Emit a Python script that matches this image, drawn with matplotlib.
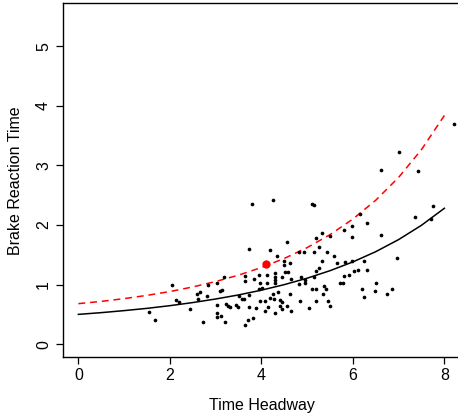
import numpy as np
import matplotlib
matplotlib.use("Agg")
import matplotlib.pyplot as plt

# observed points (time headway, brake reaction time)
headway = [
    1.55, 1.68, 2.04, 2.14, 2.21, 2.43, 2.60, 2.66, 2.62, 2.73,
    2.81, 2.84, 3.03, 3.03, 3.03, 3.03, 3.10, 3.13, 3.12, 3.19,
    3.21, 3.22, 3.26, 3.32, 3.45, 3.48, 3.52, 3.58, 3.63, 3.64,
    3.64, 3.64, 3.70, 3.72, 3.73, 3.73, 3.79, 3.83, 3.82, 3.89,
    3.94, 3.94, 4.02, 3.97, 3.97, 4.08, 4.07, 4.13, 4.13, 4.14,
    4.18, 4.19, 4.25, 4.28, 4.26, 4.30, 4.30, 4.30, 4.30, 4.30,
    4.34, 4.37, 4.41, 4.45, 4.41, 4.45, 4.45, 4.49, 4.50, 4.52,
    4.59, 4.56, 4.57, 4.63, 4.64, 4.63, 4.64, 4.83, 4.93, 4.86,
    4.96, 4.83, 4.96, 4.85, 5.05, 5.10, 5.19, 5.11, 5.14, 5.14,
    5.16, 5.19, 5.19, 5.20, 5.26, 5.27, 5.32, 5.33, 5.34, 5.36,
    5.41, 5.44, 5.46, 5.50, 5.50, 5.59, 5.66, 5.71, 5.78, 5.81,
    5.81, 5.83, 5.91, 5.98, 5.98, 5.99, 6.02, 6.12, 6.15, 6.20,
    6.25, 6.25, 6.30, 6.30, 6.49, 6.50, 6.61, 6.62, 6.74, 6.85,
    6.97, 7.01, 7.35, 7.42, 7.70, 7.75, 8.21,
]
reaction = [
    0.54, 0.40, 0.99, 0.74, 0.70, 0.59, 0.84, 0.87, 0.75, 0.37,
    0.80, 0.99, 1.02, 0.65, 0.52, 0.45, 0.89, 0.91, 0.47, 1.12,
    0.38, 0.68, 0.64, 0.63, 0.65, 0.63, 0.81, 0.76, 0.75, 1.15,
    1.06, 0.33, 0.40, 0.83, 0.63, 1.59, 2.35, 1.09, 0.44, 0.60,
    1.16, 0.92, 0.95, 1.03, 0.73, 0.73, 0.56, 1.16, 1.02, 0.62,
    0.77, 1.58, 2.42, 0.75, 0.85, 1.20, 1.12, 1.08, 1.03, 0.53,
    1.48, 0.88, 0.74, 0.70, 0.64, 1.12, 0.59, 1.39, 1.33, 1.21,
    1.21, 0.64, 1.71, 1.36, 1.09, 0.85, 0.55, 1.54, 1.54, 1.12,
    1.08, 1.01, 1.02, 0.73, 0.60, 0.92, 0.92, 2.36, 2.33, 1.12,
    1.55, 1.78, 0.73, 1.22, 1.27, 1.63, 1.40, 1.87, 0.84, 0.98,
    0.93, 1.55, 0.73, 1.81, 0.64, 1.48, 1.36, 1.02, 1.02, 1.91,
    1.14, 1.38, 1.16, 1.99, 1.40, 1.79, 1.22, 1.25, 2.18, 0.92,
    1.39, 0.79, 2.03, 1.24, 0.90, 1.02, 1.83, 2.92, 0.85, 0.92,
    1.44, 3.22, 2.14, 2.90, 2.10, 2.31, 3.70,
]

# highlighted observation
red_point = (4.10, 1.345)

# fitted curves
curve_x = [0.0, 0.5, 1.0, 1.5, 2.0, 2.5, 3.0, 3.5, 4.0,
           4.5, 5.0, 5.5, 6.0, 6.5, 7.0, 7.5, 8.0]
mean_curve = [0.500, 0.529, 0.563, 0.601, 0.646, 0.698, 0.758, 0.826, 0.906,
              0.999, 1.107, 1.233, 1.380, 1.552, 1.755, 1.995, 2.280]
upper_curve = [0.680, 0.718, 0.764, 0.819, 0.883, 0.960, 1.051, 1.158, 1.286,
               1.438, 1.620, 1.837, 2.099, 2.415, 2.798, 3.265, 3.837]

plt.rcParams["font.family"] = ["Liberation Sans", "DejaVu Sans"]

fig = plt.figure(figsize=(4.58, 4.17), dpi=100)
ax = fig.add_axes([0.1382, 0.1432, 0.864, 0.849])

ax.plot(curve_x, mean_curve, color="black", lw=1.1)
ax.plot(curve_x, upper_curve, color="red", lw=1.1, linestyle=(0, (4.5, 3.2)))
ax.scatter(headway, reaction, s=7, color="black", linewidths=0, zorder=3)
ax.plot(*red_point, "o", color="red", markersize=6, markeredgewidth=0, zorder=4)

ax.set_xlim(-0.33, 8.32)
ax.set_ylim(-0.22, 5.72)
ax.set_xticks([0, 2, 4, 6, 8])
ax.set_yticks([0, 1, 2, 3, 4, 5])
ax.tick_params(direction="out", length=4.8, width=0.9, labelsize=11.5, color="black")
ax.tick_params(axis="x", pad=3.2)
ax.tick_params(axis="y", pad=4.0)
for lbl in ax.get_yticklabels():
    lbl.set_rotation(90)
    lbl.set_va("center")
for sp in ax.spines.values():
    sp.set_linewidth(1.0)
    sp.set_color("black")

ax.set_xlabel("Time Headway", fontsize=11.5)
ax.set_ylabel("Brake Reaction Time", fontsize=11.5)
ax.xaxis.label.set_va("center")
ax.yaxis.label.set_va("center")
ax.xaxis.set_label_coords(0.501, -0.135)
ax.yaxis.set_label_coords(-0.122, 0.5)

fig.savefig("out.png", dpi=100)
